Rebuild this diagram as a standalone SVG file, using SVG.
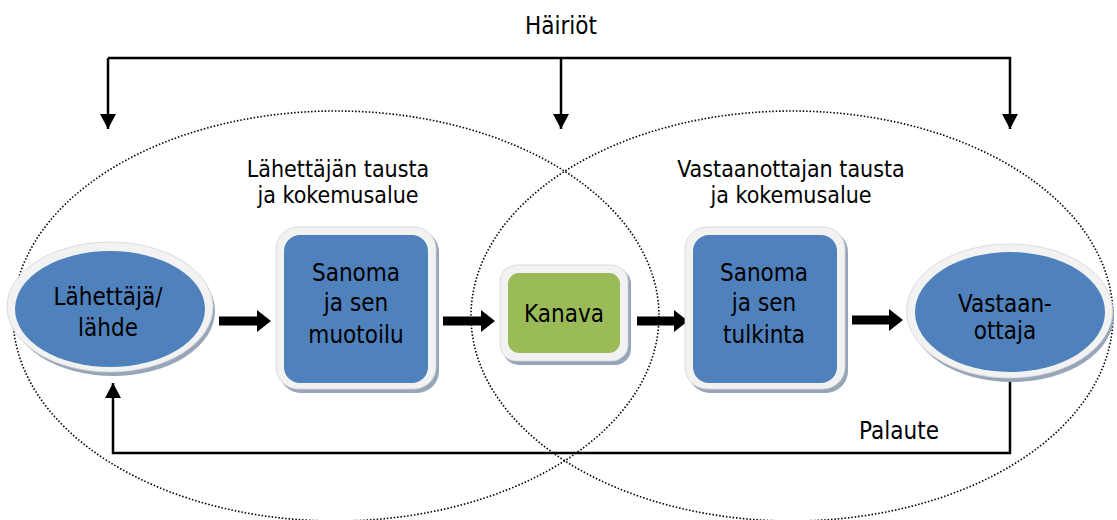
<svg xmlns="http://www.w3.org/2000/svg" width="1117" height="520" viewBox="0 0 1117 520">
  <style>
    .t { font-family: "DejaVu Sans Condensed", "DejaVu Sans", "Liberation Sans", sans-serif; font-stretch: condensed; font-size: 24px; fill: #000; text-anchor: middle; }
    .s { font-size: 23px; }
    .dot { fill: none; stroke: #000; stroke-width: 1.6; stroke-dasharray: 1.5 1.9; }
    .line { fill: none; stroke: #000; stroke-width: 2.5; }
    .shadow { fill: #97a5b9; }
    .outer { fill: #f2f2f2; stroke: #d4d4d4; stroke-width: 0.8; }
    .blue { fill: #4f81bd; }
    .green { fill: #9bbb59; }
    .block { fill: #000; }
  </style>
  <defs>
    <marker id="ah" markerUnits="userSpaceOnUse" markerWidth="16" markerHeight="16" viewBox="0 0 16 16" refX="15" refY="8" orient="auto">
      <path d="M0,0 L15,8 L0,16 Z" fill="#000"/>
    </marker>
  </defs>
  <rect width="1117" height="520" fill="#fff"/>

  <g id="backgrounds">
    <ellipse class="dot" cx="336" cy="316" rx="323" ry="205"/>
    <ellipse class="dot" cx="792" cy="316" rx="321" ry="205"/>
  </g>

  <g id="labels">
    <text class="t" x="561" y="34">Häiriöt</text>
    <text class="t s" x="338" y="177">Lähettäjän tausta</text>
    <text class="t s" x="338" y="203">ja kokemusalue</text>
    <text class="t s" x="791" y="177">Vastaanottajan tausta</text>
    <text class="t s" x="791" y="203">ja kokemusalue</text>
    <text class="t" x="899" y="439">Palaute</text>
  </g>

  <g id="connectors">
    <path class="line" d="M108,58 H1010 V129" marker-end="url(#ah)"/>
    <path class="line" d="M108,58 V129" marker-end="url(#ah)"/>
    <path class="line" d="M561,58 V129" marker-end="url(#ah)"/>
    <path class="line" d="M1010,377 V453 H113 V383" marker-end="url(#ah)"/>
    <polygon class="block" points="219,316.5 257,316.5 257,310 271,321 257,332 257,325.5 219,325.5"/>
    <polygon class="block" points="443,316.5 481,316.5 481,310 495,321 481,332 481,325.5 443,325.5"/>
    <polygon class="block" points="637,316.5 674,316.5 674,310 688,321 674,332 674,325.5 637,325.5"/>
    <polygon class="block" points="852,315.5 889,315.5 889,309 903,320 889,331 889,324.5 852,324.5"/>
  </g>

  <g id="sender">
    <ellipse class="shadow" cx="113" cy="311" rx="102" ry="65"/>
    <ellipse class="outer" cx="110" cy="307" rx="103" ry="65"/>
    <ellipse class="blue" cx="110" cy="309" rx="95" ry="58"/>
    <text class="t" x="108" y="305">Lähettäjä/</text>
    <text class="t" x="108" y="336">lähde</text>
  </g>

  <g id="message-format">
    <rect class="shadow" x="279" y="230" width="160" height="163" rx="22"/>
    <rect class="outer" x="276" y="227" width="160" height="162" rx="22"/>
    <rect class="blue" x="284" y="235" width="144" height="148" rx="16"/>
    <text class="t" x="356" y="281">Sanoma</text>
    <text class="t" x="356" y="311">ja sen</text>
    <text class="t" x="356" y="343">muotoilu</text>
  </g>

  <g id="channel">
    <rect class="shadow" x="503" y="268" width="128" height="97" rx="16"/>
    <rect class="outer" x="500" y="265" width="128" height="96" rx="16"/>
    <rect class="green" x="508" y="273" width="112" height="80" rx="11"/>
    <text class="t" x="564" y="322">Kanava</text>
  </g>

  <g id="message-interpret">
    <rect class="shadow" x="688" y="230" width="160" height="163" rx="22"/>
    <rect class="outer" x="685" y="227" width="160" height="162" rx="22"/>
    <rect class="blue" x="693" y="235" width="144" height="148" rx="16"/>
    <text class="t" x="764" y="281">Sanoma</text>
    <text class="t" x="764" y="311">ja sen</text>
    <text class="t" x="764" y="343">tulkinta</text>
  </g>

  <g id="receiver">
    <ellipse class="shadow" cx="1012" cy="315" rx="102" ry="67"/>
    <ellipse class="outer" cx="1009.5" cy="311" rx="103" ry="67"/>
    <ellipse class="blue" cx="1010" cy="312" rx="95" ry="60"/>
    <text class="t" x="1005" y="312">Vastaan-</text>
    <text class="t" x="1005" y="339">ottaja</text>
  </g>
</svg>
